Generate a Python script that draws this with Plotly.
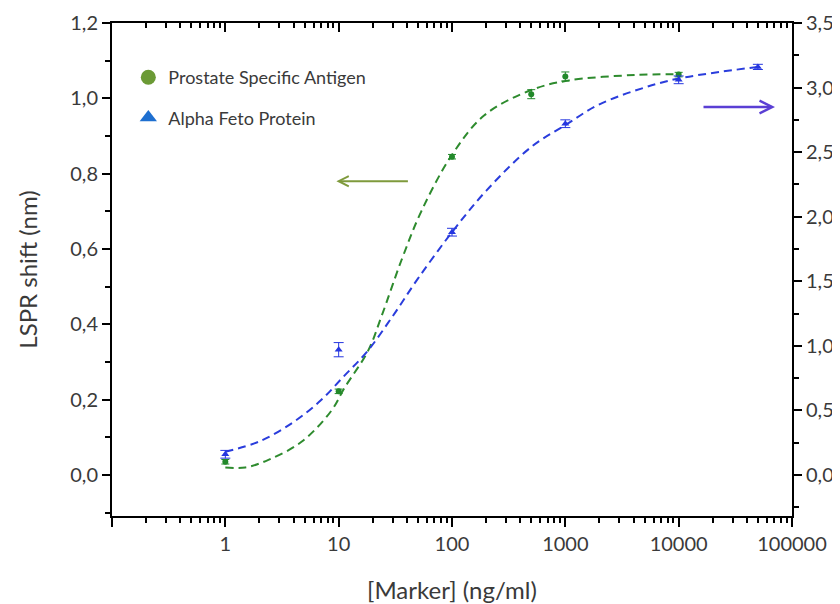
import plotly.graph_objects as go

# ---------------- data ----------------
conc_psa = [1, 10, 100, 500, 1000, 10000]
psa_shift = [0.035, 0.222, 0.845, 1.011, 1.058, 1.063]
psa_err = [0.006, 0.006, 0.006, 0.012, 0.012, 0.006]

conc_afp = [1, 10, 100, 1000, 10000, 50000]
afp_shift = [0.16, 0.97, 1.88, 2.72, 3.06, 3.16]          # right axis
afp_err = [0.03, 0.055, 0.03, 0.03, 0.03, 0.02]

psa_fit_x = [1, 1.5, 2.4, 4.7, 8.6, 11.2, 18.2, 23.8, 35.8, 53.6, 100, 193, 501, 1053, 4090, 10000]
psa_fit_y = [0.02, 0.02, 0.04, 0.088, 0.17, 0.23, 0.33, 0.42, 0.57, 0.70, 0.85, 0.955, 1.022, 1.047, 1.062, 1.064]

afp_fit_x = [1, 2, 4, 7, 11, 18, 30, 50, 100, 200, 500, 1000, 2000, 5000, 10000, 50000]
afp_fit_y = [0.18, 0.26, 0.41, 0.58, 0.76, 0.96, 1.23, 1.52, 1.88, 2.20, 2.54, 2.71, 2.87, 3.00, 3.07, 3.16]

x_tickvals = [0.1, 1, 10, 100, 1000, 10000, 100000]
x_ticktext = ["", "1", "10", "100", "1000", "10000", "100000"]

legend_names = ["Prostate Specific Antigen", "Alpha Feto Protein"]

GREEN = "#22892a"
GREEN_LINE = "#2e8b2e"
BLUE = "#2536e0"
BLUE_LINE = "#2a3ddc"
TXT = "#3a3a3a"
FONT = "Lato, 'Open Sans', sans-serif"

fig = go.Figure()

fig.add_trace(go.Scatter(x=psa_fit_x, y=psa_fit_y, mode="lines",
                         line=dict(color=GREEN_LINE, width=2, dash="8px,5px", shape="spline", smoothing=1),
                         showlegend=False, hoverinfo="skip"))
fig.add_trace(go.Scatter(x=afp_fit_x, y=afp_fit_y, mode="lines", yaxis="y2",
                         line=dict(color=BLUE_LINE, width=2, dash="8px,5px", shape="spline", smoothing=1),
                         showlegend=False, hoverinfo="skip"))
fig.add_trace(go.Scatter(x=conc_psa, y=psa_shift, mode="markers",
                         marker=dict(color=GREEN, size=6, symbol="circle"),
                         error_y=dict(type="data", array=psa_err, color=GREEN, thickness=1, width=4),
                         showlegend=False))
fig.add_trace(go.Scatter(x=conc_afp, y=afp_shift, mode="markers", yaxis="y2",
                         marker=dict(color=BLUE, size=7, symbol="triangle-up"),
                         error_y=dict(type="data", array=afp_err, color=BLUE, thickness=1, width=5),
                         showlegend=False))

# legend entries
fig.add_trace(go.Scatter(x=[None], y=[None], mode="markers", name=legend_names[0], xaxis="x2",
                         marker=dict(color="#6b9a35", size=15, symbol="circle"), legendgroup="a"))
fig.add_trace(go.Scatter(x=[None], y=[None], mode="markers", name=legend_names[1], xaxis="x2",
                         marker=dict(color="#1e6fd0", size=15, symbol="triangle-up"), legendgroup="b"))

tick_font = dict(size=20, color=TXT)

fig.update_layout(
    width=832, height=596,
    margin=dict(l=104, r=48, t=15, b=88, autoexpand=False),
    paper_bgcolor="white", plot_bgcolor="white",
    separators=",.",
    font=dict(family=FONT, color=TXT, size=18),
    showlegend=True,
    legend=dict(x=0.024, y=0.927, xanchor="left", yanchor="top", bgcolor="rgba(0,0,0,0)",
                font=dict(size=18, color=TXT), tracegroupgap=14, itemsizing="trace"),
    xaxis=dict(type="log", range=[-1, 5], showline=True, linecolor="black", linewidth=2, automargin=False,
               tickvals=x_tickvals, ticktext=x_ticktext, ticks="outside", ticklen=9, tickwidth=2,
               tickcolor="black", showgrid=False, zeroline=False, tickfont=tick_font,
               minor=dict(ticks="outside", ticklen=5, tickwidth=2, tickcolor="black", dtick="D1", showgrid=False),
               title=dict(text="[Marker] (ng/ml)", font=dict(size=24), standoff=34)),
    xaxis2=dict(type="log", range=[-1, 5], overlaying="x", side="top", showline=True, linecolor="black",
                linewidth=2, tickvals=x_tickvals, ticks="inside", ticklen=9, tickwidth=2, tickcolor="black",
                showticklabels=False, showgrid=False, zeroline=False, automargin=False,
                minor=dict(ticks="inside", ticklen=5, tickwidth=2, tickcolor="black", dtick="D1", showgrid=False)),
    yaxis=dict(range=[-0.109, 1.2], dtick=0.2, tick0=0, tickformat=".1f", showline=True, linecolor="black",
               linewidth=2, ticks="outside", ticklen=8, tickwidth=2, tickcolor="black", showgrid=False,
               zeroline=False, tickfont=tick_font, automargin=False,
               minor=dict(ticks="outside", ticklen=5, tickwidth=2, tickcolor="black", dtick=0.1, tick0=0, showgrid=False),
               title=dict(text="LSPR shift (nm)", font=dict(size=24), standoff=26)),
    yaxis2=dict(range=[-0.318, 3.5], dtick=0.5, tick0=0, tickformat=".1f", overlaying="y", side="right",
                showline=True, linecolor="black", linewidth=2, ticks="outside", ticklen=8, tickwidth=2,
                tickcolor="black", showgrid=False, zeroline=False, tickfont=tick_font, automargin=False,
                minor=dict(ticks="outside", ticklen=5, tickwidth=2, tickcolor="black", dtick=0.25, tick0=0, showgrid=False)),
)

# direction arrows
fig.add_annotation(x=0.98, y=0.78, xref="x", yref="y", ax=73, ay=0, axref="pixel", ayref="pixel",
                   text="", showarrow=True, arrowhead=5, arrowsize=1, arrowwidth=2, arrowcolor="#7f9a3c")
fig.add_annotation(x=4.85, y=0.977, xref="x", yref="y", ax=-73, ay=0, axref="pixel", ayref="pixel",
                   text="", showarrow=True, arrowhead=5, arrowsize=1, arrowwidth=2.5, arrowcolor="#5a3fd4")

fig.write_html("out.html")
